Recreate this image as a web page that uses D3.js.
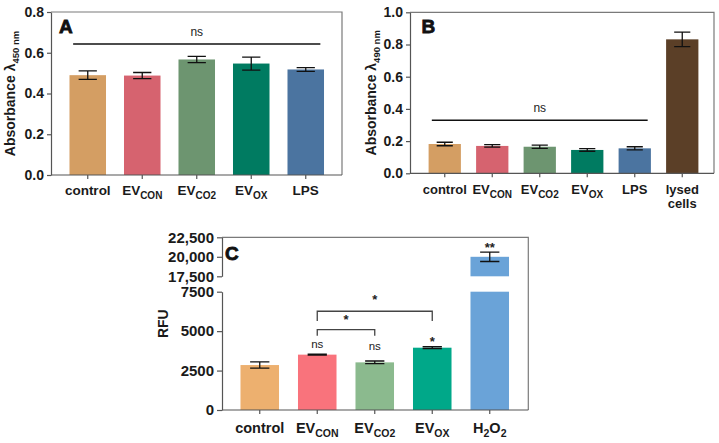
<!DOCTYPE html>
<html><head><meta charset="utf-8">
<script src="https://cdn.jsdelivr.net/npm/d3@7"></script>
<style>body{margin:0;background:#fff}svg{display:block;font-family:"Liberation Sans",Arial,Helvetica,sans-serif}</style>
</head><body><svg id="c" width="719" height="443"></svg>
<script>
// ---------- DATA ----------
const catsA = ["control", "EV_{CON}", "EV_{CO2}", "EV_{OX}", "LPS"];
const valsA = [0.490, 0.488, 0.567, 0.547, 0.518];
const errA  = [0.021, 0.015, 0.015, 0.032, 0.009];
const ticksA = [0, 0.2, 0.4, 0.6, 0.8];
const colorsA = ["#D49E63", "#D6636F", "#6D9570", "#007B61", "#4B74A0"];

const catsB = ["control", "EV_{CON}", "EV_{CO2}", "EV_{OX}", "LPS", "lysed|cells"];
const valsB = [0.182, 0.170, 0.165, 0.145, 0.155, 0.832];
const errB  = [0.011, 0.008, 0.010, 0.008, 0.010, 0.045];
const ticksB = [0, 0.2, 0.4, 0.6, 0.8, 1.0];
const colorsB = ["#D49E63", "#D6636F", "#6D9570", "#007B61", "#4B74A0", "#5B3F27"];

const catsC = ["control", "EV_{CON}", "EV_{CO2}", "EV_{OX}", "H_{2}O_{2}"];
const valsC = [2850, 3510, 3020, 3950, 20000];
const errC  = [200, 30, 85, 60, 600];
const ticksCLow = [0, 2500, 5000, 7500];
const ticksCHigh = [17500, 20000, 22500];
const colorsC = ["#EDB06F", "#F9737C", "#8BBA8E", "#00A889", "#6AA3D8"];
// significance labels in C: [category, text, value at baseline]
const sigC = [["EV_{CON}", "ns", 3930], ["EV_{CO2}", "ns", 3800], ["EV_{OX}", "*", 4070], ["H_{2}O_{2}", "**", 20560]];
// brackets in C: [from, to, bar value, leg-end value, star value]
const bracketsC = [["EV_{CON}", "EV_{CO2}", 5090, 4710, 5480], ["EV_{CON}", "EV_{OX}", 6260, 5640, 6700]];

// ---------- HELPERS ----------
const svg = d3.select("#c");
const AXC = "#555";
const FRAME = "#7a7a7a";

function richText(sel, str, size, subSize, subShift) {
  const parts = str.split(/(_\{[^}]*\})/).filter(s => s.length);
  let shifted = false;
  parts.forEach(p => {
    if (p.startsWith("_{")) {
      sel.append("tspan").attr("font-size", subSize).attr("dy", shifted ? 0 : subShift).text(p.slice(2, -1));
      shifted = true;
    } else {
      sel.append("tspan").attr("font-size", size).attr("dy", shifted ? -subShift : 0).text(p);
      shifted = false;
    }
  });
}

function errorBars(g, x, y, cats, vals, errs, capFrac) {
  const cw = x.bandwidth() * capFrac / 2;
  cats.forEach((c, i) => {
    const cx = x(c) + x.bandwidth() / 2;
    const yt = y(vals[i] + errs[i]), yb = y(vals[i] - errs[i]);
    g.append("path")
      .attr("d", `M${cx},${yt}V${yb}M${cx - cw},${yt}H${cx + cw}M${cx - cw},${yb}H${cx + cw}`)
      .attr("stroke", "#111").attr("stroke-width", 1.3).attr("fill", "none");
  });
}

function xLabels(g, x, cats, y0, off, size, subSize, lineH) {
  cats.forEach(c => {
    const cx = x(c) + x.bandwidth() / 2;
    const lines = c.split("|");
    lines.forEach((ln, k) => {
      const t = g.append("text").attr("x", cx).attr("y", y0 + off + k * lineH)
        .attr("text-anchor", "middle").attr("font-weight", "bold").attr("fill", "#1a1a1a");
      richText(t, ln, size, subSize, 4);
    });
  });
  g.append("g").attr("transform", `translate(0,${y0})`)
    .call(d3.axisBottom(x).tickSize(4).tickSizeOuter(0).tickFormat(""))
    .call(s => s.select(".domain").remove())
    .call(s => s.selectAll("line").attr("stroke", AXC).attr("stroke-width", 1.2));
}

function styleY(s, size) {
  s.attr("font-size", size).attr("font-family", '"Liberation Sans",Arial,sans-serif');
  s.select(".domain").attr("stroke", AXC).attr("stroke-width", 1.2);
  s.selectAll(".tick line").attr("stroke", AXC).attr("stroke-width", 1.2);
  s.selectAll(".tick text").attr("font-size", size).attr("font-weight", "bold").attr("fill", "#1a1a1a");
}

function yTitle(g, cx, cy, main, sub) {
  const t = g.append("text").attr("transform", `translate(${cx},${cy}) rotate(-90)`)
    .attr("text-anchor", "middle").attr("font-weight", "bold").attr("fill", "#1a1a1a");
  t.append("tspan").attr("font-size", 14).text(main);
  if (sub) t.append("tspan").attr("font-size", 9.5).attr("dy", 4).attr("font-weight", "bold").text(sub);
}

function panelLetter(g, x, y, s) {
  g.append("text").attr("x", x).attr("y", y).attr("font-size", 19).attr("font-weight", "bold")
    .attr("fill", "#111").attr("stroke", "#111").attr("stroke-width", 0.8).text(s);
}

function barPanel(o) {
  const g = svg.append("g");
  const x = d3.scaleBand().domain(o.cats).range(o.band).paddingInner(o.pi).paddingOuter(o.pi / 2);
  const y = d3.scaleLinear().domain(o.domain).range([o.y0, o.y1]);
  g.append("path").attr("d", `M${o.left},${o.y1}H${o.right}V${o.y0}`)
    .attr("fill", "none").attr("stroke", FRAME).attr("stroke-width", 1.2);
  g.selectAll("rect.bar").data(o.cats).join("rect").attr("class", "bar")
    .attr("x", d => x(d)).attr("width", x.bandwidth())
    .attr("y", (d, i) => y(o.vals[i])).attr("height", (d, i) => y(0) - y(o.vals[i]))
    .attr("fill", (d, i) => o.colors[i]);
  errorBars(g, x, y, o.cats, o.vals, o.errs, 0.5);
  g.append("line").attr("x1", o.left).attr("x2", o.right).attr("y1", o.y0).attr("y2", o.y0)
    .attr("stroke", AXC).attr("stroke-width", 1.2);
  g.append("g").attr("transform", `translate(${o.left},0)`)
    .call(d3.axisLeft(y).tickValues(o.ticks).tickFormat(d3.format(".1f")).tickSize(4).tickSizeOuter(0).tickPadding(3))
    .call(s => styleY(s, o.tickSize));
  xLabels(g, x, o.cats, o.y0, o.labOff, o.labSize, 10, 14);
  // ns line
  const nsX1 = x(o.nsFrom) + x.bandwidth() * 0.1, nsX2 = x(o.nsTo) + x.bandwidth() * 0.9;
  g.append("line").attr("x1", nsX1).attr("x2", nsX2).attr("y1", y(o.nsVal)).attr("y2", y(o.nsVal))
    .attr("stroke", "#111").attr("stroke-width", 1.5);
  g.append("text").attr("x", (nsX1 + nsX2) / 2).attr("y", y(o.nsVal) - 8).attr("text-anchor", "middle")
    .attr("font-size", 12).attr("fill", "#222").text("ns");
  yTitle(g, o.titleX, (o.y0 + o.y1) / 2, "Absorbance λ", o.sub);
  panelLetter(g, o.letterX, o.letterY, o.letter);
}

barPanel({ cats: catsA, vals: valsA, errs: errA, colors: colorsA, ticks: ticksA, domain: [0, 0.8],
  y0: 175, y1: 12, left: 51, right: 342, band: [60.5, 333], pi: 0.33, tickSize: 14,
  labOff: 20, labSize: 13.5, nsFrom: "control", nsTo: "LPS", nsVal: 0.643,
  titleX: 15, sub: "450 nm", letter: "A", letterX: 59, letterY: 33 });

barPanel({ cats: catsB, vals: valsB, errs: errB, colors: colorsB, ticks: ticksB, domain: [0, 1.0],
  y0: 173.3, y1: 12.3, left: 410, right: 714, band: [421, 706], pi: 0.32, tickSize: 14,
  labOff: 20.5, labSize: 13, nsFrom: "control", nsTo: "LPS", nsVal: 0.33,
  titleX: 376, sub: "490 nm", letter: "B", letterX: 421.5, letterY: 33 });

// ---------- PANEL C (broken axis) ----------
(function () {
  const g = svg.append("g");
  const left = 222, right = 528.3, y0 = 410;
  const x = d3.scaleBand().domain(catsC).range([231, 518.5]).paddingInner(0.33).paddingOuter(0.165);
  const yL = d3.scaleLinear().domain([0, 7500]).range([410, 291.7]);
  const yH = d3.scaleLinear().domain([17500, 22500]).range([276.3, 237.3]);
  g.append("path").attr("d", `M${left},${yH(22500)}H${right}V${y0}`)
    .attr("fill", "none").attr("stroke", FRAME).attr("stroke-width", 1.2);
  catsC.forEach((c, i) => {
    const v = valsC[i];
    const top = Math.min(v, 7500);
    g.append("rect").attr("x", x(c)).attr("width", x.bandwidth())
      .attr("y", yL(top)).attr("height", yL(0) - yL(top)).attr("fill", colorsC[i]);
    if (v > 17500) {
      g.append("rect").attr("x", x(c)).attr("width", x.bandwidth())
        .attr("y", yH(v)).attr("height", yH(17500) - yH(v)).attr("fill", colorsC[i]);
    }
  });
  const idxLow = catsC.map((c, i) => i).filter(i => valsC[i] <= 7500);
  const idxHigh = catsC.map((c, i) => i).filter(i => valsC[i] > 17500);
  errorBars(g, x, yL, idxLow.map(i => catsC[i]), idxLow.map(i => valsC[i]), idxLow.map(i => errC[i]), 0.5);
  errorBars(g, x, yH, idxHigh.map(i => catsC[i]), idxHigh.map(i => valsC[i]), idxHigh.map(i => errC[i]), 0.5);
  g.append("line").attr("x1", left).attr("x2", right).attr("y1", y0).attr("y2", y0)
    .attr("stroke", AXC).attr("stroke-width", 1.2);
  g.append("g").attr("transform", `translate(${left},0)`)
    .call(d3.axisLeft(yL).tickValues(ticksCLow).tickFormat(d3.format("d")).tickSize(5).tickSizeOuter(0).tickPadding(3))
    .call(s => styleY(s, 15));
  g.append("g").attr("transform", `translate(${left},0)`)
    .call(d3.axisLeft(yH).tickValues(ticksCHigh).tickFormat(d3.format(",")).tickSize(5).tickSizeOuter(0).tickPadding(3))
    .call(s => styleY(s, 15));
  xLabels(g, x, catsC, y0, 22.5, 14.5, 10.5, 14);
  const cxOf = c => x(c) + x.bandwidth() / 2;
  sigC.forEach(([c, s, v]) => {
    const yy = v > 17500 ? yH(v) : yL(v);
    g.append("text").attr("x", cxOf(c)).attr("y", yy).attr("text-anchor", "middle")
      .attr("font-size", s === "ns" ? 11.5 : 13).attr("font-weight", s === "ns" ? "normal" : "bold")
      .attr("fill", "#222").text(s);
  });
  bracketsC.forEach(([a, b, vb, vl, vs]) => {
    const xa = cxOf(a), xb = cxOf(b);
    g.append("path").attr("d", `M${xa},${yL(vl)}V${yL(vb)}H${xb}V${yL(vl)}`)
      .attr("fill", "none").attr("stroke", "#444").attr("stroke-width", 1.3);
    g.append("text").attr("x", (xa + xb) / 2).attr("y", yL(vs)).attr("text-anchor", "middle")
      .attr("font-size", 13).attr("font-weight", "bold").attr("fill", "#222").text("*");
  });
  g.append("text").attr("transform", `translate(168,${(y0 + yH(22500)) / 2}) rotate(-90)`)
    .attr("text-anchor", "middle").attr("font-size", 14).attr("font-weight", "bold").attr("fill", "#1a1a1a").text("RFU");
  panelLetter(g, 225, 259.5, "C");
})();
</script></body></html>
